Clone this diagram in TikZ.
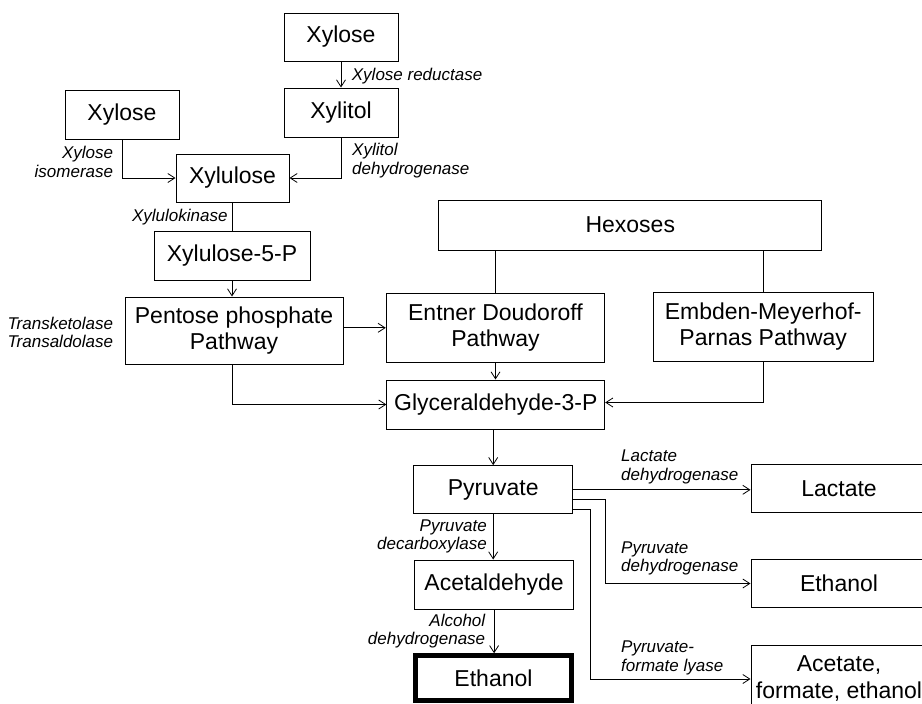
\documentclass[tikz,border=0pt]{standalone}
\usepackage{fontspec}
\setmainfont{Liberation Sans}
\usetikzlibrary{arrows.meta}
\tikzset{
  box/.style={draw, line width=1pt, inner sep=0pt, align=center, font=\fontsize{23}{26}\selectfont},
  boxtext/.style={inner sep=0pt, align=center, font=\fontsize{23}{26.5}\selectfont},
  lbl/.style={inner sep=0pt, font=\fontsize{17}{18.5}\selectfont\itshape},
  ln/.style={line width=0.8pt},
  arr/.style={line width=0.8pt, -{Straight Barb[length=7pt,width=9pt]}}
}
\begin{document}
\begin{tikzpicture}[x=1pt,y=-1pt]
\useasboundingbox (0,0) rectangle (922,704);
% boxes
\node[box, minimum width=114, minimum height=48] (xylA) at (341,37) {Xylose};
\node[box, minimum width=114, minimum height=49] (xylitol) at (341,112.5) {Xylitol};
\node[box, minimum width=114, minimum height=49] (xylB) at (122,114.5) {Xylose};
\node[box, minimum width=113, minimum height=48] (xylu) at (232.5,178) {Xylulose};
\node[box, minimum width=156, minimum height=49] (x5p) at (232,255.5) {Xylulose-5-P};
\node[box, minimum width=218, minimum height=67] (ppp) at (234,330.5) {Pentose phosphate\\Pathway};
\node[box, minimum width=383, minimum height=50] (hex) at (630.3,225) {Hexoses};
\node[box, minimum width=218.5, minimum height=69] (ed) at (495.5,327.8) {Entner Doudoroff\\Pathway};
\node[box, minimum width=220.3, minimum height=68.7] (emp) at (763.2,326.7) {Embden-Meyerhof-\\Parnas Pathway};
\node[box, minimum width=217.8, minimum height=49] (g3p) at (495.8,404.5) {Glyceraldehyde-3-P};
\node[box, minimum width=158.6, minimum height=48.3] (pyr) at (493.2,489.8) {Pyruvate};
\node[box, minimum width=159, minimum height=49] (acet) at (494.1,584.5) {Acetaldehyde};
\node[box, line width=4.5pt, minimum width=155.6, minimum height=45.2] (eth1) at (493.5,678.1) {Ethanol};
\node[box, minimum width=176, minimum height=48.4] (lac) at (839,488.5) {Lactate};
\node[box, minimum width=176, minimum height=48.4] (eth2) at (839,583.5) {Ethanol};
\node[box, minimum width=176, minimum height=90] (ace) at (839,690) {};
\node[boxtext] (acetxt) at (839,678.5) {Acetate,\\formate, ethanol};
% connectors
\draw[arr] (xylA) -- (xylitol);
\draw[arr] (xylB.south) |- (xylu.west);
\draw[arr] (xylitol.south) |- (xylu.east);
\draw[ln] (xylu.south) -- (xylu.south |- x5p.north);
\draw[arr] (x5p.south) -- (x5p.south |- ppp.north);
\draw[arr] (ppp.east |- ed.west) -- (ed.west);
\draw[arr] (ppp.south -| x5p.south) |- (g3p.west);
\draw[ln] (ed.north |- hex.south) -- (ed.north);
\draw[ln] (emp.north |- hex.south) -- (emp.north);
\draw[arr] (ed.south) -- (ed.south |- g3p.north);
\draw[arr] (emp.south) |- ([yshift=2pt]g3p.east);
\draw[arr] (pyr.north |- g3p.south) -- (pyr.north);
\draw[arr] (pyr.south) -- (pyr.south |- acet.north);
\draw[arr] (acet.south) -- (acet.south |- eth1.north);
\draw[arr] (pyr.east) -- (pyr.east -| lac.west);
\draw[arr] ([yshift=-9.5pt]pyr.east) -- ++(32.5,0) |- (eth2.west);
\draw[arr] ([yshift=-19.5pt]pyr.east) -- ++(17,0) |- ([yshift=11pt]ace.west);
% labels
\node[lbl, anchor=west] (lXR) at (351.7,76) {Xylose reductase};
\node[lbl, anchor=west, align=left] (lXD) at (352,160.5) {Xylitol\\dehydrogenase};
\node[lbl, anchor=east, align=right] (lXI) at (113.3,162) {Xylose\\isomerase};
\node[lbl, anchor=east] (lXK) at (227.7,217) {Xylulokinase};
\node[lbl, anchor=east, align=right] (lTT) at (113.3,332.2) {Transketolase\\Transaldolase};
\node[lbl, anchor=west, align=left] (lLD) at (621,467) {Lactate\\dehydrogenase};
\node[lbl, anchor=west, align=left] (lPD) at (621,558.3) {Pyruvate\\dehydrogenase};
\node[lbl, anchor=west, align=left] (lPF) at (621,657.8) {Pyruvate-\\formate lyase};
\node[lbl, anchor=east, align=right] (lPDC) at (487,536.2) {Pyruvate\\decarboxylase};
\node[lbl, anchor=east, align=right] (lAD) at (485.4,631) {Alcohol\\dehydrogenase};
\end{tikzpicture}
\end{document}
